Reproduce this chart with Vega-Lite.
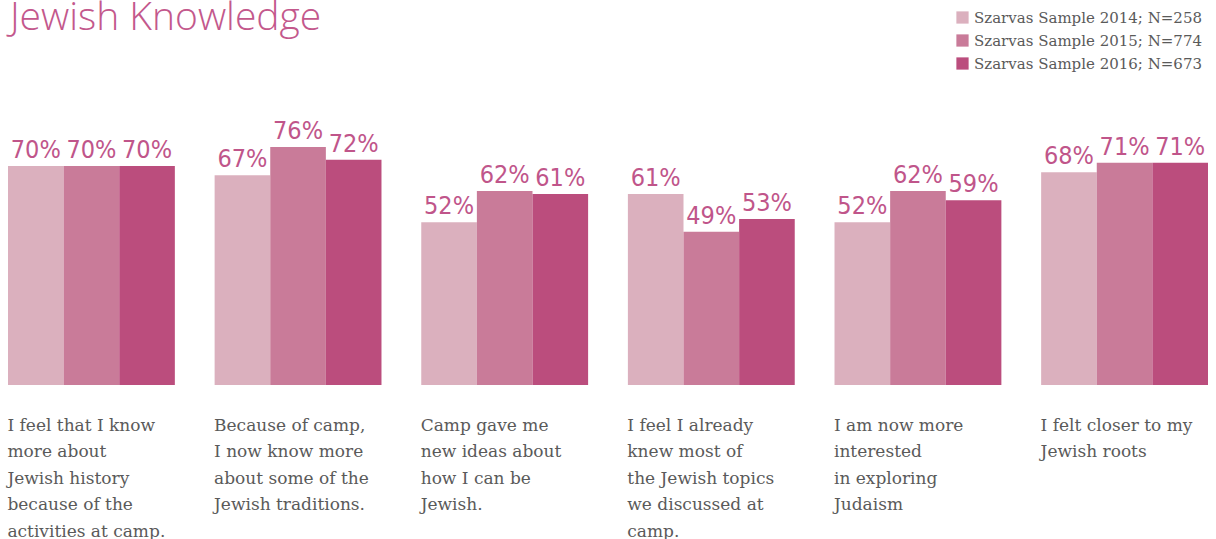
{
  "$schema": "https://vega.github.io/schema/vega-lite/v6.json",
  "width": 1216,
  "height": 313,
  "autosize": {"type": "none"},
  "padding": {"left": 0, "right": 0, "top": 72, "bottom": 154},
  "background": "white",
  "title": {
    "text": "Jewish Knowledge",
    "anchor": "start",
    "frame": "group",
    "font": "Open Sans",
    "fontWeight": 300,
    "fontSize": 39,
    "color": "#c3588c",
    "baseline": "alphabetic",
    "dx": 10,
    "offset": -59
  },
  "data": {
    "values": [
      {"item": "I feel that I know|more about|Jewish history|because of the|activities at camp.", "series": "Szarvas Sample 2014; N=258", "pct": 70},
      {"item": "I feel that I know|more about|Jewish history|because of the|activities at camp.", "series": "Szarvas Sample 2015; N=774", "pct": 70},
      {"item": "I feel that I know|more about|Jewish history|because of the|activities at camp.", "series": "Szarvas Sample 2016; N=673", "pct": 70},
      {"item": "Because of camp,|I now know more|about some of the|Jewish traditions.", "series": "Szarvas Sample 2014; N=258", "pct": 67},
      {"item": "Because of camp,|I now know more|about some of the|Jewish traditions.", "series": "Szarvas Sample 2015; N=774", "pct": 76},
      {"item": "Because of camp,|I now know more|about some of the|Jewish traditions.", "series": "Szarvas Sample 2016; N=673", "pct": 72},
      {"item": "Camp gave me|new ideas about|how I can be|Jewish.", "series": "Szarvas Sample 2014; N=258", "pct": 52},
      {"item": "Camp gave me|new ideas about|how I can be|Jewish.", "series": "Szarvas Sample 2015; N=774", "pct": 62},
      {"item": "Camp gave me|new ideas about|how I can be|Jewish.", "series": "Szarvas Sample 2016; N=673", "pct": 61},
      {"item": "I feel I already|knew most of|the Jewish topics|we discussed at|camp.", "series": "Szarvas Sample 2014; N=258", "pct": 61},
      {"item": "I feel I already|knew most of|the Jewish topics|we discussed at|camp.", "series": "Szarvas Sample 2015; N=774", "pct": 49},
      {"item": "I feel I already|knew most of|the Jewish topics|we discussed at|camp.", "series": "Szarvas Sample 2016; N=673", "pct": 53},
      {"item": "I am now more|interested|in exploring|Judaism", "series": "Szarvas Sample 2014; N=258", "pct": 52},
      {"item": "I am now more|interested|in exploring|Judaism", "series": "Szarvas Sample 2015; N=774", "pct": 62},
      {"item": "I am now more|interested|in exploring|Judaism", "series": "Szarvas Sample 2016; N=673", "pct": 59},
      {"item": "I felt closer to my|Jewish roots", "series": "Szarvas Sample 2014; N=258", "pct": 68},
      {"item": "I felt closer to my|Jewish roots", "series": "Szarvas Sample 2015; N=774", "pct": 71},
      {"item": "I felt closer to my|Jewish roots", "series": "Szarvas Sample 2016; N=673", "pct": 71}
    ]
  },
  "encoding": {
    "x": {
      "field": "item",
      "type": "nominal",
      "sort": null,
      "title": null,
      "scale": {"paddingInner": 0.1925, "paddingOuter": 0.0387},
      "axis": {
        "domain": false,
        "ticks": false,
        "tickSize": 0,
        "labelAngle": 0,
        "labelAlign": "left",
        "labelBaseline": "alphabetic",
        "labelPadding": 45,
        "labelOffset": -84,
        "labelExpr": "split(datum.label, '|')",
        "labelLineHeight": 26.5,
        "labelFont": "DejaVu Serif",
        "labelFontSize": 17,
        "labelColor": "#5a5a5a",
        "labelLimit": 0,
        "labelOverlap": false,
        "labelFlush": false
      }
    },
    "xOffset": {
      "field": "series",
      "type": "nominal",
      "scale": {"paddingInner": 0, "paddingOuter": 0}
    },
    "y": {
      "field": "pct",
      "type": "quantitative",
      "scale": {"domain": [0, 100]},
      "axis": null
    }
  },
  "layer": [
    {
      "mark": {"type": "bar"},
      "encoding": {
        "color": {
          "field": "series",
          "type": "nominal",
          "title": null,
          "scale": {
            "domain": ["Szarvas Sample 2014; N=258", "Szarvas Sample 2015; N=774", "Szarvas Sample 2016; N=673"],
            "range": ["#dbb0be", "#c97b99", "#bb4d7d"]
          },
          "legend": {
            "orient": "none",
            "legendX": 955,
            "legendY": -62,
            "symbolType": "square",
            "symbolSize": 150,
            "symbolStrokeWidth": 0,
            "symbolOpacity": 1,
            "rowPadding": 7,
            "labelFont": "DejaVu Serif",
            "labelFontSize": 15,
            "labelColor": "#5a5a5a",
            "labelOffset": 4,
            "labelLimit": 0
          }
        }
      }
    },
    {
      "transform": [{"calculate": "datum.pct + '%'", "as": "pct_label"}],
      "mark": {
        "type": "text",
        "baseline": "alphabetic",
        "dy": -8,
        "font": "DejaVu Sans Condensed, sans-serif",
        "fontSize": 25,
        "color": "#c0558a"
      },
      "encoding": {
        "text": {"field": "pct_label", "type": "nominal"}
      }
    }
  ],
  "config": {"view": {"stroke": null}}
}
